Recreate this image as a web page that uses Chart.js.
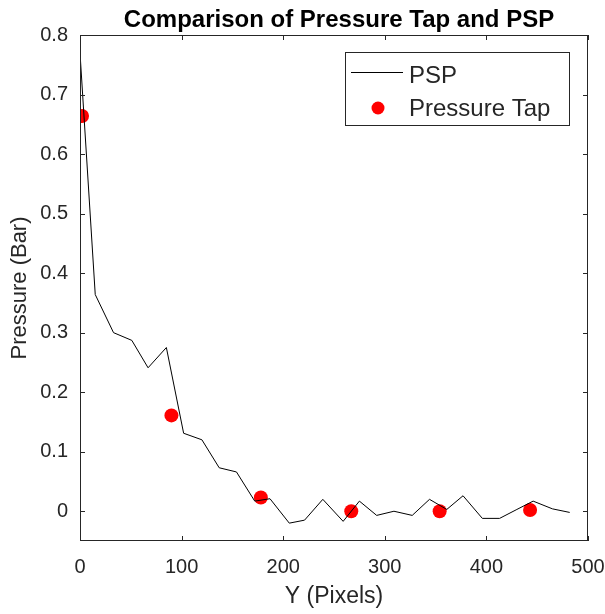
<!DOCTYPE html>
<html lang="en">
<head>
<meta charset="UTF-8">
<title>Comparison of Pressure Tap and PSP</title>
<style>
  html, body { margin: 0; padding: 0; background: #fff; }
  #wrap { width: 605px; height: 614px; }
</style>
</head>
<body>
<div id="wrap"><canvas id="myChart" width="605" height="614"></canvas></div>
<script src="https://cdn.jsdelivr.net/npm/chart.js@4/dist/chart.umd.min.js"></script>
<script>
// PSP line
const pspX = [0, 15, 33, 51, 67, 85, 102, 120, 137, 154, 172, 187, 206, 221, 239, 259, 275, 292, 309, 327, 344, 361, 377, 396, 413, 430, 446, 465, 482];
const pspY = [0.77, 0.364, 0.300, 0.287, 0.241, 0.275, 0.131, 0.120, 0.073, 0.066, 0.017, 0.021, -0.020, -0.015, 0.020, -0.017, 0.017, -0.007, 0.000, -0.007, 0.020, 0.003, 0.026, -0.012, -0.012, 0.003, 0.017, 0.004, -0.002];

// pressure tap points
const tapX = [2, 90, 178, 267, 354, 443];
const tapY = [0.664, 0.161, 0.023, 0.000, 0.000, 0.002];

const xTicks = [0, 100, 200, 300, 400, 500];
const yTicks = [0, 0.1, 0.2, 0.3, 0.4, 0.5, 0.6, 0.7, 0.8];

const titleText = "Comparison of Pressure Tap and PSP";
const ink = "#262626";
const fam = "'Liberation Sans', Arial, sans-serif";

// title over the axes, box round the plot, inward ticks, and the legend
const boxPlugin = {
  id: "box",
  afterDraw(chart) {
    const ctx = chart.ctx, a = chart.chartArea;
    const xs = chart.scales.x, ys = chart.scales.y;
    ctx.save();

    ctx.fillStyle = "#000";
    ctx.font = "bold 24px " + fam;
    ctx.textAlign = "center";
    ctx.textBaseline = "alphabetic";
    ctx.fillText(titleText, (a.left + a.right) / 2 + 5, 27);

    ctx.strokeStyle = ink;
    ctx.lineWidth = 1;
    ctx.strokeRect(a.left + 0.5, a.top + 0.5, a.right - a.left - 1, a.bottom - a.top - 1);
    ctx.beginPath();
    xTicks.forEach(v => {
      const p = Math.round(xs.getPixelForValue(v)) + 0.5;
      ctx.moveTo(p, a.bottom); ctx.lineTo(p, a.bottom - 5);
      ctx.moveTo(p, a.top); ctx.lineTo(p, a.top + 5);
    });
    yTicks.forEach(v => {
      const p = Math.round(ys.getPixelForValue(v)) + 0.5;
      ctx.moveTo(a.left, p); ctx.lineTo(a.left + 5, p);
      ctx.moveTo(a.right, p); ctx.lineTo(a.right - 5, p);
    });
    ctx.stroke();

    // legend
    const lx = 345, ly = 52, lw = 224, lh = 73;
    ctx.fillStyle = "#fff";
    ctx.fillRect(lx, ly, lw, lh);
    ctx.strokeRect(lx + 0.5, ly + 0.5, lw, lh);
    const ds = chart.data.datasets;
    ctx.beginPath();
    ctx.moveTo(351, 72.5); ctx.lineTo(403, 72.5);
    ctx.strokeStyle = ds[0].borderColor;
    ctx.stroke();
    ctx.fillStyle = ds[1].backgroundColor;
    ctx.beginPath();
    ctx.arc(378, 108, 6.5, 0, Math.PI * 2);
    ctx.fill();
    ctx.fillStyle = ink;
    ctx.font = "24px " + fam;
    ctx.textAlign = "left";
    ctx.textBaseline = "alphabetic";
    ctx.fillText(ds[0].label, 409, 83);
    ctx.fillText(ds[1].label, 409, 116);
    ctx.restore();
  }
};

new Chart("myChart", {
  type: "scatter",
  data: {
    datasets: [
      {
        label: "PSP",
        type: "line",
        data: pspX.map((x, i) => ({ x: x, y: pspY[i] })),
        borderColor: "#000000",
        borderWidth: 1,
        pointRadius: 0,
        fill: false,
        tension: 0
      },
      {
        label: "Pressure Tap",
        data: tapX.map((x, i) => ({ x: x, y: tapY[i] })),
        backgroundColor: "#ff0000",
        borderColor: "#ff0000",
        pointRadius: 7,
        pointBorderWidth: 0
      }
    ]
  },
  options: {
    responsive: false,
    animation: false,
    layout: { padding: { left: 0, right: 0, top: 35, bottom: 0 } },
    plugins: {
      legend: { display: false },
      tooltip: { enabled: false },
      title: { display: false }
    },
    scales: {
      x: {
        type: "linear",
        min: 0, max: 500,
        afterBuildTicks: s => { s.ticks = xTicks.map(v => ({ value: v })); },
        afterFit: s => { s.height = 73; s.paddingRight = 17; },
        grid: { display: false },
        border: { display: false },
        ticks: { color: ink, font: { family: fam, size: 20 }, padding: 6, maxRotation: 0 },
        title: { display: true, text: "Y (Pixels)", color: ink, font: { family: fam, size: 23 }, padding: { top: 0 } }
      },
      y: {
        type: "linear",
        min: -0.05, max: 0.8,
        afterBuildTicks: s => { s.ticks = yTicks.map(v => ({ value: v })); },
        afterFit: s => { s.width = 80; },
        grid: { display: false },
        border: { display: false },
        ticks: { color: ink, font: { family: fam, size: 20 }, padding: 4, callback: v => String(Math.round(v * 10) / 10) },
        title: { display: true, text: "Pressure (Bar)", color: ink, font: { family: fam, size: 22 }, padding: { top: 7, bottom: 0 } }
      }
    }
  },
  plugins: [boxPlugin]
});
</script>
</body>
</html>
